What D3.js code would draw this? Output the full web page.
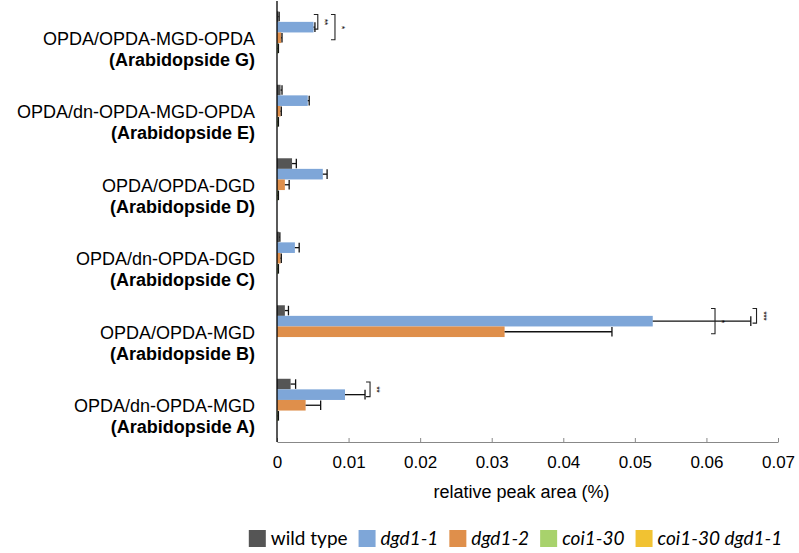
<!DOCTYPE html>
<html><head><meta charset="utf-8">
<script src="https://cdn.jsdelivr.net/npm/d3@7"></script>
<style>body{margin:0;background:#fff}svg{display:block}</style>
</head><body>
<svg id="chart" width="799" height="553"></svg>
<script>
// ---- data (top to bottom) ----
const compoundNames = ["OPDA/OPDA-MGD-OPDA","OPDA/dn-OPDA-MGD-OPDA","OPDA/OPDA-DGD","OPDA/dn-OPDA-DGD","OPDA/OPDA-MGD","OPDA/dn-OPDA-MGD"];
const arabidopsideNames = ["(Arabidopside G)","(Arabidopside E)","(Arabidopside D)","(Arabidopside C)","(Arabidopside B)","(Arabidopside A)"];
const seriesNames = ["wild type","dgd1-1","dgd1-2","coi1-30","coi1-30 dgd1-1"];
const seriesItalic = [false,true,true,true,true];
const seriesColors = ["#555555","#7ea6d8","#df8f4b","#a8d26c","#f1c232"];
const wildType      = [0.0002,0.0005,0.0021,0.0003,0.0011,0.0019];
const wildTypeErr   = [0.0001,0.0002,0.0006,0.0001,0.0005,0.0007];
const dgd1_1        = [0.0051,0.0043,0.0064,0.0025,0.0525,0.0095];
const dgd1_1Err     = [0.0002,0.0002,0.0006,0.0006,0.0137,0.0028];
const dgd1_2        = [0.0006,0.0005,0.0011,0.0005,0.0318,0.0040];
const dgd1_2Err     = [0.0001,0.0001,0.0006,0.0001,0.0150,0.0021];
const coi1_30       = [0.0001,0.0001,0.0001,0.0001,0,0.0001];
const coi1_30Err    = [0.0001,0.0001,0.0001,0.0001,0,0.0001];
const coi1_30dgd1_1 = [0,0,0,0,0,0];
const coi1_30dgd1_1Err = [0,0,0,0,0,0];
const xTicks = [0,0.01,0.02,0.03,0.04,0.05,0.06,0.07];
const xTitle = "relative peak area (%)";
// significance brackets: group index, from series, to series, x position (value), stars
const sigGroup = [0,0,4,4,5];
const sigFrom  = [0,0,0,0,0];
const sigTo    = [1,2,2,1,1];
const sigX     = [0.0057,0.0081,0.0612,0.0670,0.0130];
const sigStars = ["**","*","*","***","**"];

const values = [wildType,dgd1_1,dgd1_2,coi1_30,coi1_30dgd1_1];
const errors = [wildTypeErr,dgd1_1Err,dgd1_2Err,coi1_30Err,coi1_30dgd1_1Err];

const svg = d3.select("#chart");
const pL = 277, pR = 778, pT = 1, pB = 442;
const x = d3.scaleLinear().domain([0,0.07]).range([pL,pR]);
const y = d3.scaleBand().domain(d3.range(compoundNames.length)).range([pT,pB]).padding(0);
const ys = d3.scaleBand().domain(d3.range(seriesNames.length)).range([0,y.bandwidth()]).paddingInner(0).paddingOuter(0.97);

// x axis
const xAxis = d3.axisBottom(x).tickValues(xTicks).tickFormat(d=>d===0?"0":d3.format(".2f")(d)).tickSizeInner(-4).tickSizeOuter(0).tickPadding(14);
const gx = svg.append("g").attr("transform",`translate(0,${pB})`).call(xAxis);
gx.select(".domain").attr("stroke","#888").attr("stroke-width",1.2);
gx.selectAll(".tick line").attr("stroke","#888");
gx.selectAll(".tick text").attr("font-family","'Liberation Sans',Arial,sans-serif").attr("font-size",17).attr("fill","#000");

svg.append("text").attr("x",(pL+pR)/2 - 6).attr("y",498).attr("text-anchor","middle")
  .attr("font-family","'Liberation Sans',Arial,sans-serif").attr("font-size",18).text(xTitle);

// bars
seriesNames.forEach((s,si)=>{
  const g = svg.append("g");
  g.selectAll("rect").data(values[si]).join("rect")
    .attr("x",x(0)).attr("y",(d,i)=>y(i)+ys(si))
    .attr("width",d=>Math.max(0,x(d)-x(0))).attr("height",ys.bandwidth())
    .attr("fill",seriesColors[si]);
});
// error bars
seriesNames.forEach((s,si)=>{
  const g = svg.append("g").attr("stroke","#111").attr("stroke-width",1.3);
  values[si].forEach((v,i)=>{
    const e = errors[si][i];
    if (v===0 && e===0) return;
    const cy = y(i)+ys(si)+ys.bandwidth()/2;
    g.append("line").attr("x1",x(v)).attr("x2",x(v+e)).attr("y1",cy).attr("y2",cy);
    g.append("line").attr("x1",x(v+e)).attr("x2",x(v+e)).attr("y1",cy-ys.bandwidth()/2+0.5).attr("y2",cy+ys.bandwidth()/2-0.5);
  });
});

// y axis line
svg.append("line").attr("x1",pL).attr("x2",pL).attr("y1",pT).attr("y2",pB).attr("stroke","#000").attr("stroke-width",1.3);

// category labels (two lines)
compoundNames.forEach((n,i)=>{
  const cy = y(i)+y.bandwidth()/2;
  svg.append("text").attr("x",255).attr("y",cy+7).attr("text-anchor","end")
    .attr("font-family","'Liberation Sans',Arial,sans-serif").attr("font-size",18).text(n);
  svg.append("text").attr("x",255).attr("y",cy+28).attr("text-anchor","end").attr("font-weight","bold")
    .attr("font-family","'Liberation Sans',Arial,sans-serif").attr("font-size",18).text(arabidopsideNames[i]);
});

// significance brackets (stars stacked vertically, as in the figure)
sigGroup.forEach((gi,k)=>{
  const y1 = y(gi)+ys(sigFrom[k])+ys.bandwidth()/2;
  const y2 = y(gi)+ys(sigTo[k])+ys.bandwidth()/2;
  const bx = x(sigX[k]);
  svg.append("path").attr("d",`M${bx-4},${y1-2}H${bx}V${y2+2}H${bx-4}`).attr("fill","none").attr("stroke","#222").attr("stroke-width",1.1);
  const cy = (y1+y2)/2;
  svg.append("text").attr("transform",`translate(${bx+4},${cy}) rotate(90)`)
    .attr("text-anchor","middle").attr("letter-spacing",-0.5)
    .attr("font-family","'Liberation Sans',Arial,sans-serif").attr("font-size",9).text(sigStars[k]);
});

// legend
const lg = svg.append("g").attr("font-family","Lato,'Open Sans',sans-serif").attr("font-size",19);
let lx = 0;
seriesNames.forEach((s,si)=>{
  lg.append("rect").attr("x",lx).attr("y",530).attr("width",17).attr("height",17).attr("fill",seriesColors[si]);
  lx += 17+5;
  const t = lg.append("text").attr("x",lx).attr("y",545).attr("font-style",seriesItalic[si]?"italic":"normal").text(s);
  lx += t.node().getComputedTextLength() + (si<seriesNames.length-1?11:0);
});
lg.attr("transform",`translate(${(pL+pR)/2 - lx/2 - 12},0)`);
</script>
</body></html>
